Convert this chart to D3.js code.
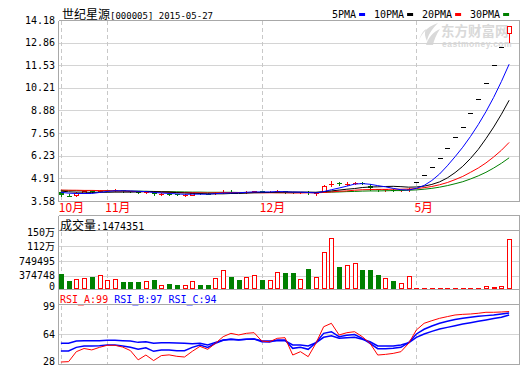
<!DOCTYPE html>
<html>
<head>
<meta charset="utf-8">
<script src="https://cdn.jsdelivr.net/npm/d3@7/dist/d3.min.js"></script>
<style>
  body { margin: 0; background: #fff; }
  svg { display: block; }
</style>
</head>
<body>
<svg id="chart" width="520" height="365"></svg>
<script>
// Datos del grafico (000005, diario)
const titulo = '世纪星源';
const tituloCodigo = '[000005] 2015-05-27';
const meses = ['10月', '11月', '12月', '5月'];
const mesesIdx = [0, 6, 26, 46];

const aperturas = [4.10, 3.90, 3.92, 4.05, 4.16, 4.12, 4.17, 4.20, 4.22, 4.14, 4.11, 4.06, 4.08, 3.97, 4.00, 3.97, 3.92, 3.96, 4.04, 4.00,
  3.99, 4.06, 4.12, 4.10, 4.06, 4.12, 4.15, 4.10, 4.12, 4.16, 4.08, 4.04, 4.08, 4.02, 4.10, 4.50, 4.62, 4.56, 4.60, 4.66,
  4.44, 4.28, 4.20, 4.24, 4.17, 4.20, 4.69, 5.11, 5.59, 6.10, 6.70, 7.33, 7.93, 8.75, 9.54, 10.51, 11.53, 12.58, 13.40];
const maximos = [4.12, 3.97, 4.08, 4.16, 4.20, 4.22, 4.24, 4.26, 4.23, 4.16, 4.12, 4.13, 4.09, 4.03, 4.02, 3.98, 3.98, 4.06, 4.05, 4.02,
  4.08, 4.22, 4.24, 4.12, 4.14, 4.18, 4.17, 4.16, 4.20, 4.17, 4.10, 4.10, 4.14, 4.06, 4.50, 4.78, 4.68, 4.68, 4.72, 4.70,
  4.58, 4.30, 4.30, 4.26, 4.24, 4.34, 4.69, 5.11, 5.59, 6.10, 6.70, 7.33, 7.93, 8.75, 9.54, 10.51, 11.53, 12.58, 13.81];
const minimos = [3.90, 3.85, 3.90, 4.03, 4.09, 4.10, 4.15, 4.17, 4.12, 4.09, 4.05, 4.04, 3.96, 3.93, 3.95, 3.91, 3.90, 3.95, 3.99, 3.97,
  3.97, 4.05, 4.08, 4.04, 4.05, 4.10, 4.08, 4.08, 4.10, 4.06, 4.02, 4.02, 4.00, 3.94, 4.08, 4.46, 4.52, 4.52, 4.56, 4.55,
  4.22, 4.18, 4.16, 4.14, 4.15, 4.18, 4.69, 5.11, 5.59, 6.10, 6.70, 7.33, 7.93, 8.75, 9.54, 10.51, 11.53, 12.58, 12.91];
const cierres = [3.92, 3.88, 4.06, 4.14, 4.11, 4.19, 4.21, 4.23, 4.14, 4.10, 4.07, 4.11, 3.98, 4.00, 3.96, 3.93, 3.96, 4.04, 4.00, 3.98,
  4.06, 4.12, 4.10, 4.06, 4.12, 4.15, 4.10, 4.13, 4.16, 4.08, 4.04, 4.08, 4.03, 4.04, 4.44, 4.60, 4.58, 4.60, 4.64, 4.60,
  4.36, 4.20, 4.26, 4.16, 4.21, 4.29, 4.69, 5.11, 5.59, 6.10, 6.70, 7.33, 7.93, 8.75, 9.54, 10.51, 11.53, 12.58, 13.81];

const ma5 = [4.09, 4.04, 4.02, 4.02, 4.02, 4.08, 4.14, 4.18, 4.18, 4.17, 4.15, 4.13, 4.08, 4.05, 4.02, 4.00, 3.97, 3.98, 3.98, 3.98,
  4.01, 4.04, 4.05, 4.06, 4.09, 4.11, 4.11, 4.11, 4.13, 4.12, 4.10, 4.10, 4.08, 4.05, 4.13, 4.24, 4.34, 4.45, 4.57, 4.60,
  4.56, 4.48, 4.41, 4.32, 4.24, 4.22, 4.32, 4.49, 4.78, 5.16, 5.64, 6.17, 6.73, 7.36, 8.05, 8.81, 9.65, 10.58, 11.59];
const ma10 = [4.16, 4.12, 4.10, 4.10, 4.08, 4.09, 4.09, 4.10, 4.10, 4.10, 4.11, 4.14, 4.13, 4.11, 4.10, 4.07, 4.05, 4.03, 4.02, 4.00,
  4.00, 4.00, 4.02, 4.02, 4.04, 4.06, 4.07, 4.08, 4.10, 4.11, 4.11, 4.10, 4.10, 4.09, 4.13, 4.17, 4.22, 4.27, 4.31, 4.37,
  4.40, 4.41, 4.43, 4.44, 4.42, 4.39, 4.40, 4.45, 4.55, 4.70, 4.93, 5.24, 5.61, 6.07, 6.60, 7.23, 7.91, 8.66, 9.48];
const ma20 = [4.22, 4.21, 4.21, 4.20, 4.20, 4.19, 4.18, 4.17, 4.16, 4.15, 4.13, 4.12, 4.11, 4.10, 4.09, 4.08, 4.07, 4.07, 4.06, 4.05,
  4.06, 4.07, 4.07, 4.07, 4.07, 4.07, 4.06, 4.06, 4.06, 4.06, 4.05, 4.05, 4.06, 4.06, 4.08, 4.11, 4.15, 4.17, 4.21, 4.24,
  4.25, 4.26, 4.26, 4.27, 4.27, 4.28, 4.31, 4.36, 4.43, 4.53, 4.66, 4.83, 5.02, 5.26, 5.51, 5.81, 6.16, 6.55, 7.01];
const ma30 = [4.20, 4.20, 4.19, 4.19, 4.19, 4.18, 4.18, 4.17, 4.17, 4.16, 4.16, 4.15, 4.14, 4.13, 4.13, 4.12, 4.11, 4.10, 4.10, 4.09,
  4.09, 4.09, 4.09, 4.08, 4.08, 4.08, 4.08, 4.08, 4.07, 4.07, 4.07, 4.08, 4.08, 4.08, 4.09, 4.10, 4.11, 4.13, 4.14, 4.16,
  4.17, 4.17, 4.18, 4.19, 4.19, 4.21, 4.23, 4.27, 4.32, 4.39, 4.48, 4.59, 4.71, 4.87, 5.05, 5.26, 5.51, 5.79, 6.11];

const volumenes = [441000, 235000, 294000, 323000, 353000, 403000, 265000, 294000, 206000, 206000, 206000, 226000, 265000, 118000, 147000,
  118000, 118000, 235000, 118000, 118000, 323000, 550000, 353000, 265000, 353000, 403000, 265000, 256000, 491000, 470000,
  470000, 294000, 588000, 353000, 1079000, 1498990, 647000, 705000, 755000, 558000, 558000, 412000, 323000, 235000, 168000,
  373000, 9000, 7000, 8000, 10000, 9000, 12000, 11000, 15000, 14000, 88000, 68000, 88000, 1474351];

const rsiA = [28, 28.5, 42.5, 47, 45, 48.6, 51.5, 51.5, 49, 44, 31, 37.8, 30, 37, 38, 36, 35, 43, 50, 45.8,
  54.3, 63.6, 68.3, 66, 68.3, 69.2, 57.5, 56.5, 61.3, 62.2, 37.8, 42.5, 35.5, 54.3, 77.6, 82.4, 66, 69.2, 70.6, 63.6,
  54.3, 37.8, 38.7, 40.1, 42.5, 54.3, 73, 82.4, 86.1, 89.4, 91.8, 94.1, 95, 95.5, 96.5, 97.9, 97.9, 98.3, 99];
const rsiB = [43.4, 43.4, 48.6, 50.5, 50.5, 51, 51.9, 51.9, 50.5, 48.6, 45.8, 48.1, 43, 44.9, 44.9, 43.9, 43.9, 48.6, 51.9, 48.6,
  54.3, 58.5, 59.9, 59, 59.9, 60.3, 56.5, 56, 59, 59, 47.2, 48.6, 45.8, 55.1, 68.3, 70.6, 63.6, 65.5, 66.5, 61.3,
  54.3, 46.8, 46.8, 47.2, 48.6, 55.1, 67.4, 74, 78.6, 82.4, 85.2, 87.6, 89.4, 90.8, 92.2, 93.2, 94.1, 95.5, 97];
const rsiC = [54.3, 54.3, 57.5, 58, 58, 58, 58.5, 58.5, 58, 57.5, 55.6, 56.5, 54.3, 55.1, 55.1, 54.7, 54.3, 53.8, 54.3, 51.9,
  55.6, 59, 59.9, 59.4, 59.9, 60.3, 58, 57.5, 58, 58, 51.9, 51.9, 50.5, 55.1, 62.7, 65, 61.3, 62.2, 62.7, 59.9,
  56.5, 50.5, 50.5, 50.5, 51.9, 55.1, 62.7, 67.4, 71.1, 74.4, 76.7, 79.1, 81.4, 83.3, 85.2, 87.1, 89, 90.8, 94];

const preciosEje = [14.18, 12.86, 11.53, 10.21, 8.88, 7.56, 6.23, 4.91, 3.58];
const volEje = [1498990, 1124243, 749495, 374748, 0];
const volEjeTexto = ['150万', '112万', '749495', '374748', '0'];
const rsiEje = [99, 64, 28];

// Estilos
const colGrid = '#d4d4d4';
const colBorde = '#a8a8a8';
const colGuion = '#c8c8c8';
const mono = "'DejaVu Sans Mono', monospace";
const cjk = "'Noto Sans CJK SC', sans-serif";

const svg = d3.select('#chart');
const n = cierres.length;
const L = 58.5, R = 519.5;

// Escalas
const x = d3.scaleBand().domain(d3.range(n)).range([57, 513]);
const cx = i => x(i) + x.bandwidth() / 2;
const yPrecio = d3.scaleLinear().domain([3.58, 14.18]).range([201, 20]);
const volMax = d3.max(volumenes);
const yVol = d3.scaleLinear().domain([0, volMax]).range([289, 238]);
const yVolEje = d3.scaleLinear().domain([0, volMax]).range([291, 231]);
const rsiMin = d3.min([...rsiA, ...rsiB, ...rsiC]);
const rsiMax = d3.max([...rsiA, ...rsiB, ...rsiC]);
const yRsi = d3.scaleLinear().domain([rsiMin, rsiMax]).range([362, 311.5]);
const yRsiEje = d3.scaleLinear().domain([rsiMin, rsiMax]).range([364, 305]);

const px = v => Math.round(v) + 0.5;

function linea(g, x1, y1, x2, y2, color, dash) {
  const l = g.append('line')
    .attr('x1', x1).attr('y1', y1).attr('x2', x2).attr('y2', y2)
    .attr('stroke', color).attr('stroke-width', 1)
    .attr('shape-rendering', 'crispEdges');
  if (dash) l.attr('stroke-dasharray', dash);
  return l;
}

// Marca de agua
const marca = svg.append('g').attr('fill', '#d9d9d9');
marca.append('path')
  .attr('d', 'M418,45 C419,36 426,27 438,23 C432,29 428,35 427,41 C425,37 424,33 426,29 C421,33 419,39 418,45 Z');
marca.append('path')
  .attr('d', 'M426,45 C428,38 433,32 440,29 C436,35 434,40 433,45 Z');
marca.append('text').attr('x', 441).attr('y', 35.5)
  .attr('font-family', cjk).attr('font-size', 13.5).attr('font-weight', 'bold')
  .text('东方财富网');
marca.append('text').attr('x', 442).attr('y', 47)
  .attr('font-family', "'Liberation Sans', Arial, sans-serif").attr('font-size', 8.5).attr('font-weight', 'bold')
  .attr('letter-spacing', 0.5)
  .text('eastmoney.com');

// Cuadricula y bordes
const fondo = svg.append('g');
preciosEje.forEach((v, k) => {
  const yy = px(yPrecio(v));
  const esBorde = k === 0 || k === preciosEje.length - 1;
  linea(fondo, L, yy, R, yy, esBorde ? colBorde : colGrid);
});
[1, 2, 3].forEach(k => {
  const yy = px(yVolEje(volEje[k]));
  linea(fondo, L, yy, R, yy, colGrid);
});
linea(fondo, L, px(yRsiEje(rsiEje[1])), R, px(yRsiEje(rsiEje[1])), colGrid);

mesesIdx.forEach(i => {
  const xx = px(cx(i));
  linea(fondo, xx, 21, xx, 200, colGuion, '4,3');
  linea(fondo, xx, 232, xx, 288, colGuion, '4,3');
  linea(fondo, xx, 306, xx, 364, colGuion, '4,3');
});

// bordes de paneles
linea(fondo, L, 20.5, L, 201.5, colBorde);
linea(fondo, R, 20.5, R, 201.5, colBorde);
linea(fondo, L, 215.5, R, 215.5, colBorde);
linea(fondo, L, 230.5, R, 230.5, colBorde);
linea(fondo, L, 289.5, R, 289.5, colBorde);
linea(fondo, L, 304.5, R, 304.5, colBorde);
linea(fondo, L, 364.5, R, 364.5, colBorde);
linea(fondo, L, 215.5, L, 365, colBorde);
linea(fondo, R, 215.5, R, 365, colBorde);

// Etiquetas de ejes
const ejes = svg.append('g').attr('font-family', mono).attr('font-size', 10)
  .attr('text-anchor', 'end').attr('fill', '#000');
preciosEje.forEach(v => {
  ejes.append('text').attr('x', 55).attr('y', yPrecio(v)).attr('dy', '0.35em')
    .text(v.toFixed(2));
});
volEje.forEach((v, k) => {
  const yy = Math.max(232, Math.min(286, yVolEje(v) + (k === 1 ? 1 : 0)));
  const t = ejes.append('text').attr('x', 55).attr('y', yy).attr('dy', '0.35em');
  const txt = volEjeTexto[k];
  if (txt.endsWith('万')) {
    t.append('tspan').text(txt.slice(0, -1));
    t.append('tspan').attr('font-family', cjk).attr('font-size', 10).text('万');
  } else {
    t.text(txt);
  }
});
rsiEje.forEach(v => {
  const yy = Math.max(306, Math.min(361, yRsiEje(v)));
  ejes.append('text').attr('x', 55).attr('y', yy).attr('dy', '0.35em').text(v);
});

// Meses
svg.append('g').selectAll('text').data(mesesIdx).join('text')
  .attr('x', i => cx(i) - 2)
  .attr('y', 212)
  .attr('fill', '#ff0000')
  .attr('font-family', cjk)
  .attr('font-size', 12)
  .text((i, k) => meses[k]);

// Titulo y leyenda
const tit = svg.append('text').attr('x', 62).attr('y', 18.5).attr('fill', '#000');
tit.append('tspan').attr('font-family', cjk).attr('font-size', 12).text(titulo);
tit.append('tspan').attr('font-family', mono).attr('font-size', 9).text(tituloCodigo);

const leyenda = [
  { nombre: '5PMA', color: '#0000ff', x: 332 },
  { nombre: '10PMA', color: '#000000', x: 374 },
  { nombre: '20PMA', color: '#ff0000', x: 422 },
  { nombre: '30PMA', color: '#008000', x: 470 }
];
const ley = svg.append('g');
leyenda.forEach(d => {
  ley.append('text').attr('x', d.x).attr('y', 18)
    .attr('font-family', mono).attr('font-size', 10).text(d.nombre);
  ley.append('rect').attr('x', d.x + d.nombre.length * 6.02 + 3).attr('y', 13)
    .attr('width', 6).attr('height', 3).attr('fill', d.color);
});

// Velas
const velas = svg.append('g').attr('shape-rendering', 'crispEdges');
d3.range(n).forEach(i => {
  const izq = Math.round(cx(i)) - 2;
  const c = izq + 2.5;
  const yA = Math.round(yPrecio(aperturas[i]));
  const yC = Math.round(yPrecio(cierres[i]));
  const yH = Math.round(yPrecio(maximos[i]));
  const yL = Math.round(yPrecio(minimos[i]));
  let color = '#000';
  if (cierres[i] > aperturas[i]) color = '#ff0000';
  else if (cierres[i] < aperturas[i]) color = '#008000';

  if (yL > yH) {
    velas.append('line').attr('x1', c).attr('x2', c).attr('y1', yH).attr('y2', yL + 1)
      .attr('stroke', color);
  }
  if (cierres[i] > aperturas[i] && yA - yC >= 2) {
    velas.append('rect').attr('x', izq + 0.5).attr('y', yC + 0.5)
      .attr('width', 4).attr('height', yA - yC)
      .attr('fill', '#fff').attr('stroke', color);
  } else if (cierres[i] < aperturas[i]) {
    velas.append('rect').attr('x', izq).attr('y', yA)
      .attr('width', 5).attr('height', Math.max(1, yC - yA))
      .attr('fill', color);
  } else {
    velas.append('rect').attr('x', izq).attr('y', yC)
      .attr('width', 5).attr('height', 1).attr('fill', color);
  }
});

// Medias moviles
const lineaPrecio = d3.line().x((d, i) => cx(i)).y(d => yPrecio(d));
[[ma30, '#008000'], [ma20, '#ff0000'], [ma10, '#000000'], [ma5, '#0000ff']].forEach(([serie, color]) => {
  svg.append('path').datum(serie)
    .attr('d', lineaPrecio)
    .attr('fill', 'none')
    .attr('stroke', color)
    .attr('stroke-width', 1);
});

// Volumen
const hdrVol = svg.append('text').attr('x', 60).attr('y', 229.5).attr('fill', '#000');
hdrVol.append('tspan').attr('font-family', cjk).attr('font-size', 12).text('成交量');
hdrVol.append('tspan').attr('font-family', mono).attr('font-size', 10).text(':' + volumenes[n - 1]);

const barras = svg.append('g').attr('shape-rendering', 'crispEdges');
const base = 289;
volumenes.forEach((v, i) => {
  const izq = Math.round(cx(i)) - 2;
  const top = Math.round(yVol(v));
  const sube = cierres[i] >= aperturas[i];
  if (sube) {
    if (base - 1 - top >= 1) {
      barras.append('rect').attr('x', izq + 0.5).attr('y', top + 0.5)
        .attr('width', 4).attr('height', base - 1 - top)
        .attr('fill', '#fff').attr('stroke', '#ff0000');
    } else {
      barras.append('rect').attr('x', izq).attr('y', base - 1)
        .attr('width', 5).attr('height', 1).attr('fill', '#ff0000');
    }
  } else {
    barras.append('rect').attr('x', izq).attr('y', top)
      .attr('width', 5).attr('height', base - top).attr('fill', '#008000');
  }
});

// RSI
const hdrRsi = svg.append('text').attr('x', 60).attr('y', 303).attr('font-family', mono).attr('font-size', 10);
hdrRsi.append('tspan').attr('fill', '#ff0000').text('RSI_A:' + rsiA[n - 1]);
hdrRsi.append('tspan').attr('fill', '#0000ff').text(' RSI_B:' + rsiB[n - 1] + ' RSI_C:' + rsiC[n - 1]);

const lineaRsi = d3.line().x((d, i) => cx(i)).y(d => yRsi(d));
[[rsiC, '#0000ff', 1.5], [rsiB, '#0000ff', 1.5], [rsiA, '#ff0000', 1]].forEach(([serie, color, w]) => {
  svg.append('path').datum(serie)
    .attr('d', lineaRsi)
    .attr('fill', 'none')
    .attr('stroke', color)
    .attr('stroke-width', w);
});
</script>
</body>
</html>
